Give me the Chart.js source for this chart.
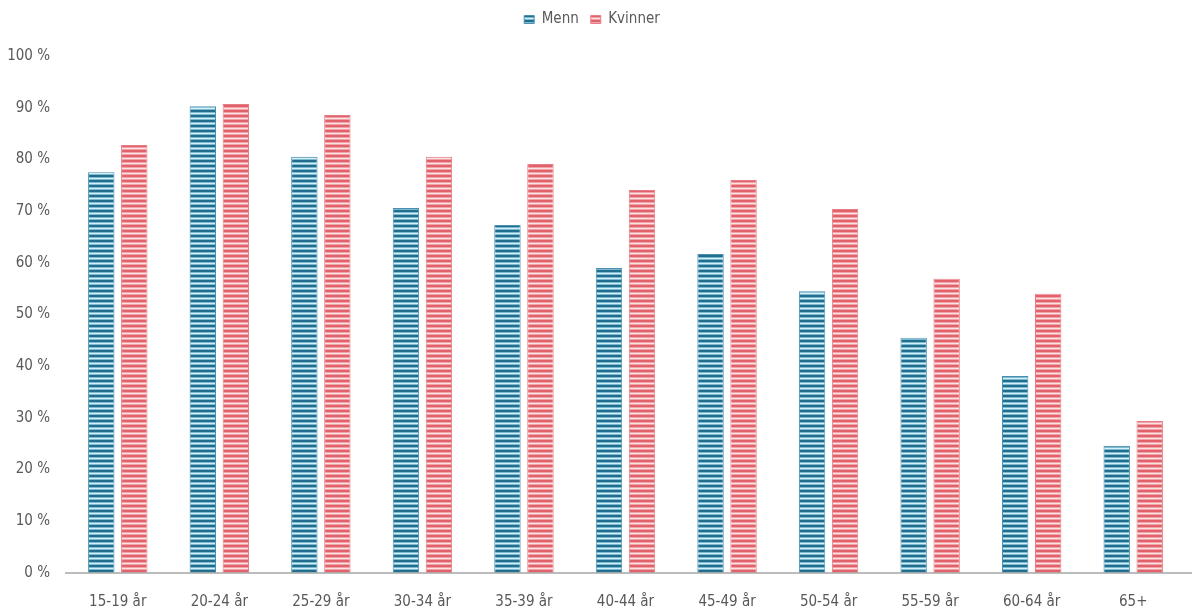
<!DOCTYPE html>
<html>
<head>
<meta charset="utf-8">
<script src="https://cdn.jsdelivr.net/npm/chart.js@4"></script>
<style>
  html, body { margin: 0; padding: 0; background: #fff; }
  #wrap { width: 1192px; height: 613px; }
</style>
</head>
<body>
<div id="wrap"><canvas id="ageChart"></canvas></div>
<script>
const categories = ['15-19 år', '20-24 år', '25-29 år', '30-34 år', '35-39 år', '40-44 år', '45-49 år', '50-54 år', '55-59 år', '60-64 år', '65+'];
const menn = [77.5, 90.3, 80.5, 70.6, 67.3, 59.0, 61.7, 54.5, 45.5, 38.1, 24.6];
const kvinner = [82.8, 90.7, 88.6, 80.5, 79.1, 74.1, 76.0, 70.4, 56.9, 54.0, 29.4];
const yTicks = [0, 10, 20, 30, 40, 50, 60, 70, 80, 90, 100];

function stripes(dark, mid, light) {
    const c = document.createElement('canvas');
    c.width = 4;
    c.height = 5;
    const g = c.getContext('2d');
    g.fillStyle = light;
    g.fillRect(0, 0, 4, 5);
    g.fillStyle = dark;
    g.fillRect(0, 0, 4, 2);
    g.fillStyle = mid;
    g.fillRect(0, 2, 4, 1);
    g.fillRect(0, 4, 4, 1);
    return g.createPattern(c, 'repeat');
}

const font = "'Liberation Sans Narrow', 'DejaVu Sans Condensed', 'Roboto', sans-serif";

// axis line across the full width, like the original
const baseLine = {
    id: 'baseLine',
    afterDatasetsDraw(chart) {
        const y = chart.scales.y.getPixelForValue(0);
        const ctx = chart.ctx;
        ctx.save();
        ctx.strokeStyle = '#a6a6a6';
        ctx.lineWidth = 1.5;
        ctx.beginPath();
        ctx.moveTo(chart.chartArea.left - 2, y);
        ctx.lineTo(chart.width, y);
        ctx.stroke();
        ctx.restore();
    }
};

// give the legend a fixed height so the plot starts lower
const legendHeight = {
    id: 'legendHeight',
    beforeLayout(chart) {
        const lg = chart.legend;
        if (lg && !lg._patched) {
            const fit = lg.fit;
            lg.fit = function () {
                fit.call(this);
                this.height = 56;
            };
            lg._patched = true;
        }
    }
};

const ctx = document.getElementById('ageChart').getContext('2d');
new Chart(ctx, {
    type: 'bar',
    data: {
        labels: categories,
        datasets: [{
            label: 'Menn',
            data: menn,
            backgroundColor: stripes('#216e8e', '#7fb9cf', '#d2f2fb'),
            borderColor: '#4a8fb0',
            borderWidth: 1
        }, {
            label: 'Kvinner',
            data: kvinner,
            backgroundColor: stripes('#e2626c', '#f0a3a8', '#fde2e4'),
            borderColor: '#e87c84',
            borderWidth: 1
        }]
    },
    options: {
        responsive: true,
        maintainAspectRatio: false,
        animation: false,
        datasets: {
            bar: { categoryPercentage: 0.65, barPercentage: 0.8 }
        },
        layout: { padding: { top: 0, right: 8, bottom: 0, left: 0 } },
        plugins: {
            legend: {
                position: 'top',
                labels: {
                    boxWidth: 10,
                    boxHeight: 8,
                    padding: 12,
                    color: '#595959',
                    font: { family: font, size: 15 }
                }
            },
            tooltip: { enabled: false }
        },
        scales: {
            x: {
                afterFit(scale) { scale.height = 40; },
                grid: { display: false },
                border: { display: false },
                ticks: {
                    color: '#595959',
                    padding: 12,
                    maxRotation: 0,
                    font: { family: font, size: 15 }
                }
            },
            y: {
                min: 0,
                max: 100,
                afterFit(scale) { scale.width = 67; },
                afterBuildTicks(scale) { scale.ticks = yTicks.map(v => ({ value: v })); },
                grid: { display: false },
                border: { display: false },
                ticks: {
                    color: '#595959',
                    padding: 9,
                    font: { family: font, size: 15 },
                    callback: v => v + ' %'
                }
            }
        }
    },
    plugins: [baseLine, legendHeight]
});
</script>
</body>
</html>
